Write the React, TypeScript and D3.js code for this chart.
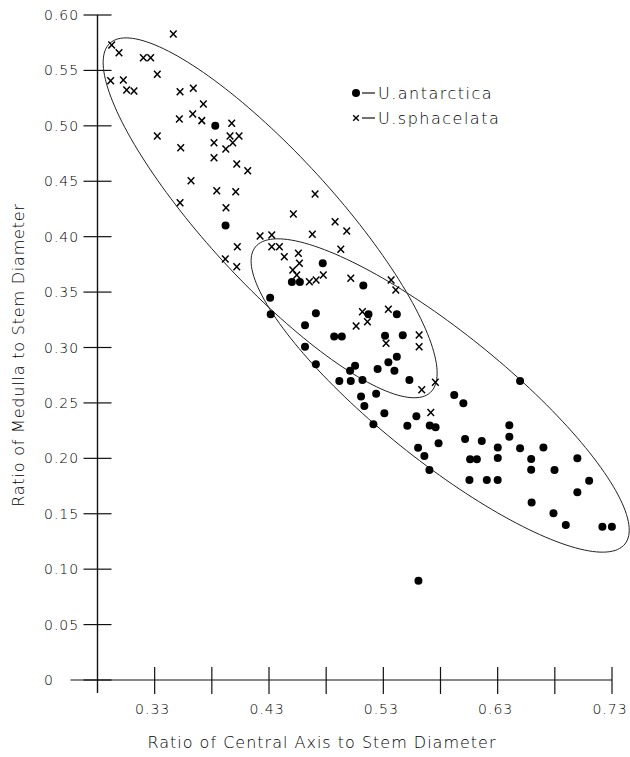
import React, { useEffect, useRef } from "react";
import * as d3 from "d3";

// U. antarctica (filled dots): [central axis ratio, medulla ratio]
const antarctica: [number, number][] = [
  [0.383, 0.5], [0.392, 0.41], [0.477, 0.376], [0.45, 0.359], [0.457, 0.359],
  [0.5125, 0.356], [0.431, 0.345], [0.4315, 0.33], [0.471, 0.331], [0.4615, 0.32],
  [0.517, 0.33], [0.5418, 0.33], [0.487, 0.31], [0.4937, 0.31], [0.5315, 0.3107],
  [0.547, 0.311], [0.4615, 0.3007], [0.471, 0.285], [0.5053, 0.2836], [0.5009, 0.279],
  [0.525, 0.2806], [0.5418, 0.2917], [0.5344, 0.2867], [0.5397, 0.279], [0.4915, 0.2698],
  [0.5015, 0.2698], [0.5117, 0.2707], [0.5528, 0.2707], [0.5105, 0.2558], [0.5237, 0.2582],
  [0.6496, 0.2698], [0.592, 0.2572], [0.6, 0.2497], [0.5134, 0.2472], [0.5309, 0.2406],
  [0.5213, 0.2307], [0.5589, 0.2379], [0.551, 0.2294], [0.5706, 0.2297], [0.5757, 0.228],
  [0.5783, 0.2136], [0.5604, 0.2096], [0.5659, 0.2021], [0.5703, 0.1895], [0.6015, 0.2174],
  [0.6161, 0.2156], [0.6301, 0.2098], [0.6402, 0.2298], [0.6402, 0.2195], [0.6496, 0.2091],
  [0.67, 0.2098], [0.6059, 0.1992], [0.6118, 0.1992], [0.6301, 0.2003], [0.6593, 0.1994],
  [0.6593, 0.1898], [0.6797, 0.1895], [0.6997, 0.2], [0.71, 0.1798], [0.6997, 0.1694],
  [0.6053, 0.1805], [0.6205, 0.1805], [0.63, 0.1805], [0.6597, 0.1602], [0.6788, 0.1504],
  [0.6896, 0.1399], [0.7216, 0.1383], [0.7299, 0.1383], [0.5607, 0.0896],
];

// U. sphacelata (crosses)
const sphacelata: [number, number][] = [
  [0.3463, 0.5829], [0.2924, 0.5729], [0.2988, 0.566], [0.3201, 0.5615], [0.3265, 0.5615],
  [0.2915, 0.5407], [0.3026, 0.5413], [0.3055, 0.5323], [0.3119, 0.5314], [0.3323, 0.5465],
  [0.3522, 0.5308], [0.3638, 0.5339], [0.3726, 0.5197], [0.3516, 0.5062], [0.3633, 0.5107],
  [0.3712, 0.5047], [0.3974, 0.5023], [0.3959, 0.4908], [0.4038, 0.4908], [0.3983, 0.4848],
  [0.3323, 0.4908], [0.3528, 0.4803], [0.3819, 0.4848], [0.3922, 0.4791], [0.3819, 0.4713],
  [0.4018, 0.4656], [0.4114, 0.4595], [0.3618, 0.4505], [0.3843, 0.4415], [0.4009, 0.4406],
  [0.3924, 0.4261], [0.3522, 0.4307], [0.4222, 0.4006], [0.4023, 0.391], [0.3918, 0.3799],
  [0.4018, 0.3729], [0.4513, 0.4205], [0.4878, 0.4135], [0.498, 0.4051], [0.4324, 0.4015],
  [0.4679, 0.4021], [0.4324, 0.391], [0.4391, 0.391], [0.4434, 0.3819], [0.4557, 0.385],
  [0.4566, 0.376], [0.4928, 0.3886], [0.4508, 0.3699], [0.4543, 0.3654], [0.4653, 0.3594],
  [0.4712, 0.3609], [0.4775, 0.3654], [0.5015, 0.3624], [0.5368, 0.3609], [0.5409, 0.3519],
  [0.5117, 0.3323], [0.5161, 0.3233], [0.5062, 0.3194], [0.5344, 0.3345], [0.5324, 0.3038],
  [0.5613, 0.3113], [0.5613, 0.3007], [0.5636, 0.2619], [0.5755, 0.2687], [0.5715, 0.2414],
  [0.4703, 0.4385],
];

// ellipses in data units: centre, semi-major vector, semi-minor vector
const sphacelataEllipse = { cx: 0.431, cy: 0.417, ax: 0.1401, ay: -0.1576, bx: -0.0413, by: -0.039 };
const antarcticaEllipse = { cx: 0.5797, cy: 0.2567, ax: 0.1616, ay: -0.134, bx: -0.0351, by: -0.045 };

const xTicks = [0.28, 0.33, 0.38, 0.43, 0.48, 0.53, 0.58, 0.63, 0.68, 0.73];
const xLabels = ["0.33", "0.43", "0.53", "0.63", "0.73"];
const yTicks = [0, 0.05, 0.1, 0.15, 0.2, 0.25, 0.3, 0.35, 0.4, 0.45, 0.5, 0.55, 0.6];
const yLabels = ["0", "0.05", "0.10", "0.15", "0.20", "0.25", "0.30", "0.35", "0.40", "0.45", "0.50", "0.55", "0.60"];

const font = "'DejaVu Sans', sans-serif";
const weight = 200;

export default function App() {
  const ref = useRef<SVGSVGElement>(null);

  useEffect(() => {
    const svg = d3.select(ref.current);
    svg.selectAll("*").remove();

    const x = d3.scaleLinear().domain([0.28, 0.73]).range([97.5, 612]);
    const y = d3.scaleLinear().domain([0, 0.6]).range([680, 15]);

    // axes
    const ax = svg.append("g").attr("stroke", "#111").attr("fill", "none");
    ax.append("line").attr("x1", x(0.28)).attr("x2", x(0.28)).attr("y1", y(0.6)).attr("y2", y(0) + 13).attr("stroke-width", 1.4);
    ax.append("line").attr("x1", x(0.28) - 27).attr("x2", x(0.73)).attr("y1", y(0)).attr("y2", y(0)).attr("stroke-width", 1.2);
    ax.selectAll(".yt").data(yTicks).join("line")
      .attr("x1", x(0.28) - 14).attr("x2", x(0.28) + 14)
      .attr("y1", d => y(d)).attr("y2", d => y(d)).attr("stroke-width", 1.2);
    ax.selectAll(".xt").data(xTicks.slice(1)).join("line")
      .attr("x1", d => x(d)).attr("x2", d => x(d))
      .attr("y1", y(0) - 13).attr("y2", y(0) + 14).attr("stroke-width", 1.2);

    svg.append("g").selectAll("text").data(yTicks).join("text")
      .attr("x", 44).attr("y", d => y(d) + 5)
      .attr("font-family", font).attr("font-weight", weight).attr("font-size", 14).attr("letter-spacing", 1)
      .attr("fill", "#000")
      .text((d, i) => yLabels[i]);

    svg.append("g").selectAll("text").data(xLabels).join("text")
      .attr("x", d => x(+d) - 2).attr("y", 714)
      .attr("text-anchor", "middle")
      .attr("font-family", font).attr("font-weight", weight).attr("font-size", 14).attr("letter-spacing", 1)
      .attr("fill", "#000")
      .text(d => d);

    svg.append("text")
      .attr("x", 322).attr("y", 748).attr("text-anchor", "middle")
      .attr("font-family", font).attr("font-weight", weight).attr("font-size", 16).attr("letter-spacing", 1)
      .attr("fill", "#000")
      .text("Ratio of Central Axis to Stem Diameter");

    svg.append("text")
      .attr("transform", "translate(24,355) rotate(-90)").attr("text-anchor", "middle")
      .attr("font-family", font).attr("font-weight", weight).attr("font-size", 16).attr("letter-spacing", 0.8)
      .attr("fill", "#000")
      .text("Ratio of Medulla to Stem Diameter");

    // ellipses
    const angles = d3.range(0, 360, 2).map(a => (a * Math.PI) / 180);
    [sphacelataEllipse, antarcticaEllipse].forEach(e => {
      const pts = angles.map(t => [
        x(e.cx + e.ax * Math.cos(t) + e.bx * Math.sin(t)),
        y(e.cy + e.ay * Math.cos(t) + e.by * Math.sin(t)),
      ] as [number, number]);
      svg.append("path")
        .attr("d", d3.line().curve(d3.curveLinearClosed)(pts))
        .attr("fill", "none").attr("stroke", "#222").attr("stroke-width", 1);
    });

    // points
    svg.append("g").selectAll("circle").data(antarctica).join("circle")
      .attr("cx", d => x(d[0])).attr("cy", d => y(d[1])).attr("r", 4)
      .attr("fill", "#000");

    svg.append("g").selectAll("path").data(sphacelata).join("path")
      .attr("transform", d => `translate(${x(d[0])},${y(d[1])})`)
      .attr("d", "M-3.3,-3.5L3.3,3.5M3.3,-3.5L-3.3,3.5")
      .attr("stroke", "#000").attr("stroke-width", 1.5).attr("fill", "none");

    // legend
    const lg = svg.append("g");
    lg.append("circle").attr("cx", 356).attr("cy", 93).attr("r", 4).attr("fill", "#000");
    lg.append("path").attr("transform", "translate(356,118)")
      .attr("d", "M-2.8,-2.8L2.8,2.8M2.8,-2.8L-2.8,2.8")
      .attr("stroke", "#000").attr("stroke-width", 1.4);
    [93, 118].forEach(cy => {
      lg.append("line").attr("x1", 362).attr("x2", 375).attr("y1", cy).attr("y2", cy)
        .attr("stroke", "#111").attr("stroke-width", 1.2);
    });
    lg.append("text").attr("x", 378).attr("y", 99)
      .attr("font-family", font).attr("font-weight", weight).attr("font-size", 16).attr("letter-spacing", 1.5)
      .attr("fill", "#000").text("U.antarctica");
    lg.append("text").attr("x", 378).attr("y", 124)
      .attr("font-family", font).attr("font-weight", weight).attr("font-size", 16).attr("letter-spacing", 1.5)
      .attr("fill", "#000").text("U.sphacelata");
  }, []);

  return (
    <svg
      ref={ref}
      width={630}
      height={757}
      style={{ position: "absolute", left: 0, top: 0, background: "#fff" }}
    />
  );
}
